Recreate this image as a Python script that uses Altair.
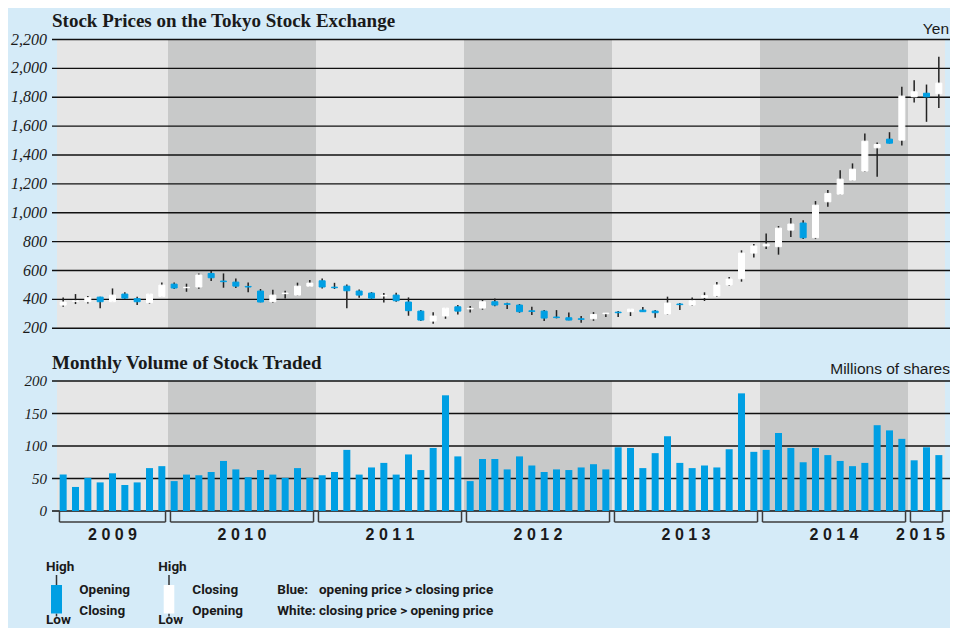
import altair as alt
import pandas as pd

# ---------------- data ----------------
opens = [361, 387, 384, 416, 384, 437, 405, 377, 421,
         506, 481, 486, 580, 527, 520, 490, 458, 384, 440, 430, 492,
         529, 485, 492, 458, 444, 424, 430, 382, 319, 250, 285, 349,
         334, 340, 384, 370, 361, 321, 319, 278, 273, 266, 266, 301,
         312, 315, 326, 319, 299, 368, 361, 414, 424, 500, 543, 721,
         770, 765, 880, 929, 827, 1076, 1129, 1226, 1289, 1450, 1510, 1503,
         1803, 1828, 1824]
closes = [382, 390, 412, 384, 430, 409, 384, 437, 499,
          479, 484, 569, 550, 523, 492, 486, 382, 430, 444, 492, 513,
          486, 481, 460, 430, 409, 428, 391, 322, 257, 285, 340, 319,
          338, 384, 361, 366, 315, 317, 271, 274, 257, 262, 296, 305,
          308, 333, 315, 308, 375, 364, 391, 426, 500, 541, 721, 770,
          783, 894, 922, 827, 1053, 1134, 1233, 1302, 1496, 1473, 1482, 1808,
          1838, 1803, 1898]
highs = [414, 437, 423, 419, 476, 449, 419, 438, 518,
         518, 509, 580, 596, 580, 545, 518, 472, 467, 460, 516, 534,
         545, 515, 504, 469, 451, 444, 446, 414, 326, 312, 341, 361,
         354, 398, 407, 377, 368, 349, 326, 326, 310, 285, 312, 306,
         319, 334, 347, 326, 419, 375, 414, 449, 520, 555, 740, 783,
         857, 908, 963, 949, 1081, 1157, 1295, 1342, 1549, 1487, 1558, 1872,
         1918, 1888, 2080]
lows = [349, 368, 372, 338, 383, 402, 361, 370, 416,
        472, 453, 474, 527, 481, 479, 449, 380, 377, 407, 426, 490,
        476, 472, 338, 412, 400, 379, 384, 287, 250, 232, 266, 296,
        310, 329, 352, 333, 308, 292, 250, 269, 255, 239, 252, 278,
        278, 285, 314, 273, 294, 327, 354, 389, 417, 493, 523, 691,
        749, 710, 832, 818, 818, 1042, 1125, 1222, 1282, 1249, 1480, 1466,
        1764, 1630, 1725]
volumes = [56, 37, 51, 44, 58, 40, 44, 66, 69,
           46, 56, 55, 60, 77, 64, 52, 63, 56, 51, 66, 51,
           55, 60, 94, 56, 67, 74, 56, 87, 63, 97, 178, 84,
           46, 80, 80, 64, 84, 70, 60, 64, 63, 67, 72, 64,
           98, 97, 66, 89, 115, 74, 66, 70, 67, 95, 181, 91,
           94, 120, 97, 75, 97, 86, 77, 69, 74, 132, 124, 111,
           78, 98, 86]
years = [2009, 2010, 2011, 2012, 2013, 2014, 2015]
year_start = [0, 9, 21, 33, 45, 57, 69]
year_end = [9, 21, 33, 45, 57, 69, 72]
price_ticks = [200, 400, 600, 800, 1000, 1200, 1400, 1600, 1800, 2000, 2200]
volume_ticks = [0, 50, 100, 150, 200]

# ---------------- styling ----------------
BLUE = "#009fe3"
BG = "#d5ebf8"
LIGHT = "#e6e6e6"
DARK = "#c8c9c9"
INK = "#1a1a1a"
W = 898
H = 588
PH = 288.8
V0, V1 = 471.5, 341.5
LEGFONT = "Roboto"

cd = pd.DataFrame({
    "m": [i + 0.5 for i in range(len(opens))],
    "open": opens, "close": closes, "high": highs, "low": lows, "vol": volumes,
})
yd = pd.DataFrame({"year": years, "start": year_start, "end": year_end})
yd["shade"] = ["light" if i % 2 == 0 else "dark" for i in range(len(years))]
yd["mid"] = (yd["start"] + yd["end"]) / 2
yd["bs"] = yd["start"] + 0.2
yd["be"] = yd["end"] - 0.2
yd["label"] = [" ".join(str(y)) for y in years]
last_year = years[-1]

xs = alt.Scale(domain=[0, 72], nice=False, zero=False)
py = alt.Scale(domain=[200, 2200], range=[PH, 0], nice=False, zero=False)
vy = alt.Scale(domain=[0, 200], range=[V0, V1], nice=False, zero=False)

X = alt.X("m:Q", scale=xs, axis=None)


def bands(y0, y1):
    base = alt.Chart(yd).encode(
        x=alt.X("start:Q", scale=xs, axis=None), x2="end:Q",
        y=alt.value(y0), y2=alt.value(y1))
    return [base.transform_filter("datum.shade == 'light'").mark_rect(color=LIGHT),
            base.transform_filter("datum.shade == 'dark'").mark_rect(color=DARK)]


def txt(s, x, y, align="left", **kw):
    return alt.Chart(pd.DataFrame({"t": [s]})).mark_text(
        align=align, baseline="alphabetic", color=INK, **kw
    ).encode(x=alt.value(x), y=alt.value(y), text="t:N")


def box(x0, x1, y0, y1, color):
    return alt.Chart(pd.DataFrame({"t": [0]})).mark_rect(color=color).encode(
        x=alt.value(x0), x2=alt.value(x1), y=alt.value(y0), y2=alt.value(y1))


def vline(x, y0, y1):
    return alt.Chart(pd.DataFrame({"t": [0]})).mark_rule(color="#333", strokeWidth=1.5).encode(
        x=alt.value(x), y=alt.value(y0), y2=alt.value(y1))


def axis_labels(ticks, scale, fmt, size):
    return alt.Chart(pd.DataFrame({"v": ticks})).mark_text(
        align="right", baseline="middle", font="Liberation Serif",
        fontStyle="italic", fontSize=size, color=INK
    ).encode(y=alt.Y("v:Q", scale=scale, axis=None), x=alt.value(-5),
             text=alt.Text("v:Q", format=fmt))


# ---------------- price panel ----------------
price_grid = alt.Chart(pd.DataFrame({"v": price_ticks})).mark_rule(
    color="#111", strokeWidth=1.4
).encode(y=alt.Y("v:Q", scale=py, axis=None), x=alt.value(0), x2=alt.value(W))

wicks = alt.Chart(cd).mark_rule(color="#222", strokeWidth=1.5).encode(
    x=X, y=alt.Y("low:Q", scale=py, axis=None), y2="high:Q")

body_col = alt.condition("datum.open > datum.close", alt.value(BLUE), alt.value("#ffffff"))
bodies = alt.Chart(cd).mark_bar(width=6, strokeWidth=1).encode(
    x=X, y=alt.Y("open:Q", scale=py, axis=None), y2="close:Q",
    fill=body_col, stroke=body_col)

price_group = alt.layer(*bands(0, PH), price_grid, wicks, bodies,
                        axis_labels(price_ticks, py, ",d", 16))

# ---------------- volume panel ----------------
vol_grid = alt.Chart(pd.DataFrame({"v": volume_ticks})).mark_rule(
    color="#111", strokeWidth=1.4
).encode(y=alt.Y("v:Q", scale=vy, axis=None), x=alt.value(0), x2=alt.value(W))

vol_bars = alt.Chart(cd).mark_bar(width=7, color=BLUE).encode(
    x=X, y=alt.Y("vol:Q", scale=vy, axis=None, stack=None), y2=alt.datum(0))

br_h = alt.Chart(yd).mark_rule(color="#3c3c3c", strokeWidth=1.5).encode(
    x=alt.X("bs:Q", scale=xs, axis=None), x2="be:Q", y=alt.value(482.5))
br_l = alt.Chart(yd).mark_rule(color="#3c3c3c", strokeWidth=1.5).encode(
    x=alt.X("bs:Q", scale=xs, axis=None), y=alt.value(471.5), y2=alt.value(482.5))
br_r = alt.Chart(yd).mark_rule(color="#3c3c3c", strokeWidth=1.5).encode(
    x=alt.X("be:Q", scale=xs, axis=None), y=alt.value(471.5), y2=alt.value(482.5))
year_style = dict(font="Liberation Sans", fontWeight="bold", fontSize=16, color=INK,
                  baseline="alphabetic")
year_lbl = alt.Chart(yd).transform_filter(f"datum.year != {last_year}").mark_text(
    align="center", **year_style
).encode(x=alt.X("mid:Q", scale=xs, axis=None), y=alt.value(500.5), text="label:N")
year_lbl_last = alt.Chart(yd).transform_filter(f"datum.year == {last_year}").mark_text(
    align="right", **year_style
).encode(x=alt.X("end:Q", scale=xs, axis=None), y=alt.value(500.5), text="label:N")

vol_group = alt.layer(*bands(V1, V0), vol_grid, vol_bars, br_h, br_l, br_r,
                      year_lbl, year_lbl_last,
                      axis_labels(volume_ticks, vy, "d", 15))

# ---------------- titles & legend ----------------
serif_title = dict(font="Liberation Serif", fontWeight="bold", fontSize=19)
titles = [
    txt("Stock Prices on the Tokyo Stock Exchange", 0, -12.8, **serif_title),
    txt("Yen", W - 1, -5.5, align="right", font="Liberation Sans", fontSize=15.5),
    txt("Monthly Volume of Stock Traded", 0, 329.5, **serif_title),
    txt("Millions of shares", W, 334.5, align="right", font="Liberation Sans", fontSize=15.5),
]
leg = dict(font=LEGFONT, fontWeight="bold", fontSize=13.5)
legend = [
    vline(4.5, 535.5, 545.5), vline(4.5, 574, 577),
    box(-1, 10, 545.5, 574, BLUE),
    vline(117, 535.5, 545.5), vline(117, 574, 577),
    box(111.7, 122.3, 545.5, 574, "#ffffff"),
    txt("High", -6, 531.5, **leg), txt("Low", -6, 584, **leg),
    txt("High", 106.3, 531.5, **leg), txt("Low", 106.3, 584, **leg),
    txt("Opening", 27.3, 554, **leg), txt("Closing", 27.3, 575, **leg),
    txt("Closing", 140.3, 554, **leg), txt("Opening", 140.3, 575, **leg),
    txt("Blue:", 225.3, 554, **leg), txt("opening price > closing price", 267, 554, **leg),
    txt("White:", 225.3, 575, **leg), txt("closing price > opening price", 267, 575, **leg),
]

chart = alt.layer(price_group, vol_group, *titles, *legend).resolve_scale(
    y="independent"
).properties(
    width=W, height=H,
    padding={"left": 44, "top": 31.5, "right": 0, "bottom": 0},
    autosize=alt.AutoSizeParams(type="none"),
    background=BG,
).configure_view(stroke=None)

chart.save("out.html", embed_options={"renderer": "svg", "actions": False})
